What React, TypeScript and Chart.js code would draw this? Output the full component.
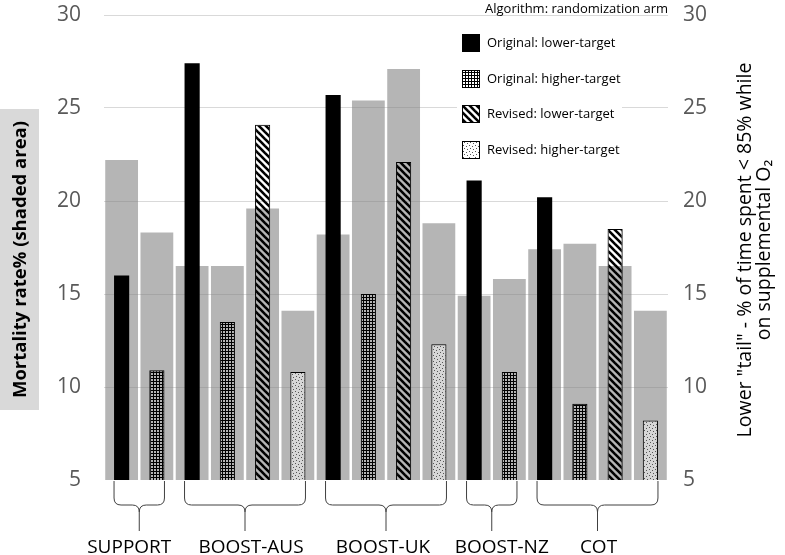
import React, { useEffect, useRef } from "react";
import { Chart, registerables } from "chart.js";

Chart.register(...registerables);

// ---------- data ----------
const categories = [
  "SUPPORT", "SUPPORT",
  "BOOST-AUS", "BOOST-AUS", "BOOST-AUS", "BOOST-AUS",
  "BOOST-UK", "BOOST-UK", "BOOST-UK", "BOOST-UK",
  "BOOST-NZ", "BOOST-NZ",
  "COT", "COT", "COT", "COT",
];
// Mortality rate % (shaded area, left axis)
const mortality = [22.2, 18.3, 16.5, 16.5, 19.6, 14.1, 18.2, 25.4, 27.1, 18.8, 14.9, 15.8, 17.4, 17.7, 16.5, 14.1];
// Lower tail % (right axis)
const originalLower = [16.0, null, 27.4, null, null, null, 25.7, null, null, null, 21.1, null, 20.2, null, null, null];
const originalHigher = [null, 10.9, null, 13.5, null, null, null, 15.0, null, null, null, 10.8, null, 9.1, null, null];
const revisedLower = [null, null, null, null, 24.1, null, null, null, 22.1, null, null, null, null, null, 18.5, null];
const revisedHigher = [null, null, null, null, null, 10.8, null, null, null, 12.3, null, null, null, null, null, 8.2];

const seriesNames = ["Original: lower-target", "Original: higher-target", "Revised: lower-target", "Revised: higher-target"];
const legendTitle = "Algorithm: randomization arm";
const leftTitle = "Mortality rate% (shaded area)";
const rightTitle = ['Lower "tail" - % of time spent < 85% while', "on supplemental O\u2082"];
const axisMin = 5;
const axisMax = 30;
const axisStep = 5;

const FONT = "'Open Sans', 'Noto Sans', sans-serif";
// small horizontal nudges of the group captions relative to their braces (layout only)
const captionNudge: Record<string, number> = { SUPPORT: -10, "BOOST-AUS": 6, "BOOST-UK": -3, "BOOST-NZ": 10, COT: 1 };

function makeTile(size: number, draw: (c: CanvasRenderingContext2D) => void): CanvasPattern {
  const cv = document.createElement("canvas");
  cv.width = size;
  cv.height = size;
  const c = cv.getContext("2d")!;
  draw(c);
  return c.createPattern(cv, "repeat")!;
}

export default function App() {
  const ref = useRef<HTMLCanvasElement | null>(null);

  useEffect(() => {
    if (!ref.current) return;

    const gridPat = makeTile(3, (c) => {
      c.fillStyle = "#000";
      c.fillRect(0, 0, 3, 1);
      c.fillRect(0, 0, 1, 3);
    });
    const hatchPat = makeTile(7, (c) => {
      c.strokeStyle = "#000";
      c.lineWidth = 2.6;
      for (const o of [-7, 0, 7]) {
        c.beginPath();
        c.moveTo(o - 1, -1);
        c.lineTo(o + 8, 8);
        c.stroke();
      }
    });
    const dotPat = makeTile(6, (c) => {
      c.fillStyle = "rgba(255,255,255,0.45)";
      c.fillRect(0, 0, 6, 6);
      c.fillStyle = "#555";
      c.fillRect(1, 1, 1, 1);
      c.fillRect(4, 2, 1, 1);
      c.fillRect(2, 4, 1, 1);
      c.fillRect(5, 5, 1, 1);
    });

    const fills: (string | CanvasPattern)[] = ["#000", gridPat, hatchPat, dotPat];
    const fgData = [originalLower, originalHigher, revisedLower, revisedHigher];

    const fgDatasets = fgData.map((d, i) => ({
      label: seriesNames[i],
      data: d,
      backgroundColor: fills[i],
      borderColor: "#000",
      borderWidth: i === 0 ? 0 : 1,
      yAxisID: "y2",
      grouped: false,
      barPercentage: 0.43,
      categoryPercentage: 1,
      order: 0,
    }));

    const overlay = {
      id: "overlay",
      afterDraw(chart: any) {
        const ctx: CanvasRenderingContext2D = chart.ctx;
        const area = chart.chartArea;
        ctx.save();

        // Left axis title with shaded box
        ctx.fillStyle = "#d9d9d9";
        ctx.fillRect(0, 109, 39, 301);
        ctx.save();
        ctx.translate(21, 259.5);
        ctx.rotate(-Math.PI / 2);
        ctx.fillStyle = "#000";
        ctx.font = `bold 18.5px ${FONT}`;
        ctx.textAlign = "center";
        ctx.textBaseline = "middle";
        ctx.fillText(leftTitle, 0, 0);
        ctx.restore();

        // Right axis title (two lines, reading bottom to top)
        ctx.save();
        ctx.translate(754, 250);
        ctx.rotate(-Math.PI / 2);
        ctx.fillStyle = "#000";
        ctx.font = `19.5px ${FONT}`;
        ctx.textAlign = "center";
        ctx.textBaseline = "middle";
        ctx.fillText(rightTitle[0], 0, -9);
        ctx.fillText(rightTitle[1], 0, 10);
        ctx.restore();

        // Legend
        ctx.fillStyle = "#fff";
        ctx.fillRect(457, 27, 165, 138);
        ctx.fillStyle = "#000";
        ctx.font = `13px ${FONT}`;
        ctx.textAlign = "right";
        ctx.textBaseline = "alphabetic";
        ctx.fillText(legendTitle, area.right, 13);
        const rows = [43, 79, 114, 150];
        seriesNames.forEach((name, i) => {
          const y = rows[i];
          ctx.fillStyle = "#fff";
          ctx.fillRect(462, y - 9, 18, 18);
          ctx.fillStyle = fills[i] as any;
          ctx.fillRect(462, y - 9, 18, 18);
          if (i > 0) {
            ctx.strokeStyle = "#000";
            ctx.lineWidth = 1;
            ctx.strokeRect(462.5, y - 8.5, 17, 17);
          }
          ctx.fillStyle = "#000";
          ctx.font = `13px ${FONT}`;
          ctx.textAlign = "left";
          ctx.textBaseline = "middle";
          ctx.fillText(name, 487, y);
        });

        // Braces + group labels
        const findEl = (idx: number) => {
          for (let d = 0; d < fgData.length; d++) {
            if (fgData[d][idx] != null) return chart.getDatasetMeta(d).data[idx];
          }
          return null;
        };
        const groups: { name: string; a: number; b: number }[] = [];
        categories.forEach((c, i) => {
          const g = groups[groups.length - 1];
          if (g && g.name === c) g.b = i;
          else groups.push({ name: c, a: i, b: i });
        });
        const yTop = area.bottom + 1;
        const yMid = area.bottom + 25;
        const yTip = area.bottom + 51;
        const r = 7;
        ctx.strokeStyle = "#404040";
        ctx.lineWidth = 1;
        groups.forEach((g) => {
          const ea = findEl(g.a);
          const eb = findEl(g.b);
          if (!ea || !eb) return;
          const x0 = ea.x - ea.width / 2;
          const x1 = eb.x + eb.width / 2;
          const xc = (x0 + x1) / 2;
          ctx.beginPath();
          ctx.moveTo(x0, yTop);
          ctx.lineTo(x0, yMid - r);
          ctx.quadraticCurveTo(x0, yMid, x0 + r, yMid);
          ctx.lineTo(xc - r, yMid);
          ctx.quadraticCurveTo(xc, yMid, xc, yMid + r);
          ctx.lineTo(xc, yTip);
          ctx.moveTo(x1, yTop);
          ctx.lineTo(x1, yMid - r);
          ctx.quadraticCurveTo(x1, yMid, x1 - r, yMid);
          ctx.lineTo(xc + r, yMid);
          ctx.quadraticCurveTo(xc, yMid, xc, yMid + r);
          ctx.stroke();

          ctx.fillStyle = "#000";
          ctx.font = `19px ${FONT}`;
          ctx.textAlign = "center";
          ctx.textBaseline = "alphabetic";
          ctx.fillText(g.name, xc + (captionNudge[g.name] || 0), 553);
        });

        ctx.restore();
      },
    };

    const chart = new Chart(ref.current, {
      type: "bar",
      data: {
        labels: categories,
        datasets: [
          ...fgDatasets,
          {
            label: "Mortality rate%",
            data: mortality,
            backgroundColor: "rgba(128,128,128,0.58)",
            borderWidth: 0,
            yAxisID: "y",
            grouped: false,
            barPercentage: 0.93,
            categoryPercentage: 1,
            order: 1,
          },
        ] as any,
      },
      options: {
        responsive: false,
        animation: false,
        layout: { padding: { top: 15, bottom: 75, left: 0, right: 0 } },
        plugins: {
          legend: { display: false },
          tooltip: { enabled: false },
          title: { display: false },
        },
        scales: {
          x: { display: false },
          y: {
            position: "left",
            min: axisMin,
            max: axisMax,
            ticks: {
              stepSize: axisStep,
              color: "#595959",
              font: { family: FONT, size: 21 },
              padding: 23,
            },
            grid: {
              drawTicks: false,
              color: (c: any) => (c.tick && c.tick.value === axisMin ? "rgba(0,0,0,0)" : "#d9d9d9"),
              lineWidth: 1,
            },
            border: { display: false },
            afterFit: (s: any) => {
              s.width = 104;
              s.paddingTop = 0;
              s.paddingBottom = 0;
            },
          },
          y2: {
            position: "right",
            min: axisMin,
            max: axisMax,
            ticks: {
              stepSize: axisStep,
              color: "#595959",
              font: { family: FONT, size: 21 },
              padding: 15,
            },
            grid: { display: false, drawTicks: false },
            border: { display: false },
            afterFit: (s: any) => {
              s.width = 117;
              s.paddingTop = 0;
              s.paddingBottom = 0;
            },
          },
        },
      } as any,
      plugins: [overlay],
    });

    return () => chart.destroy();
  }, []);

  return (
    <div style={{ position: "absolute", left: 0, top: 0, width: 785, height: 555, background: "#fff" }}>
      <canvas ref={ref} width={785} height={555} style={{ display: "block" }} />
    </div>
  );
}
